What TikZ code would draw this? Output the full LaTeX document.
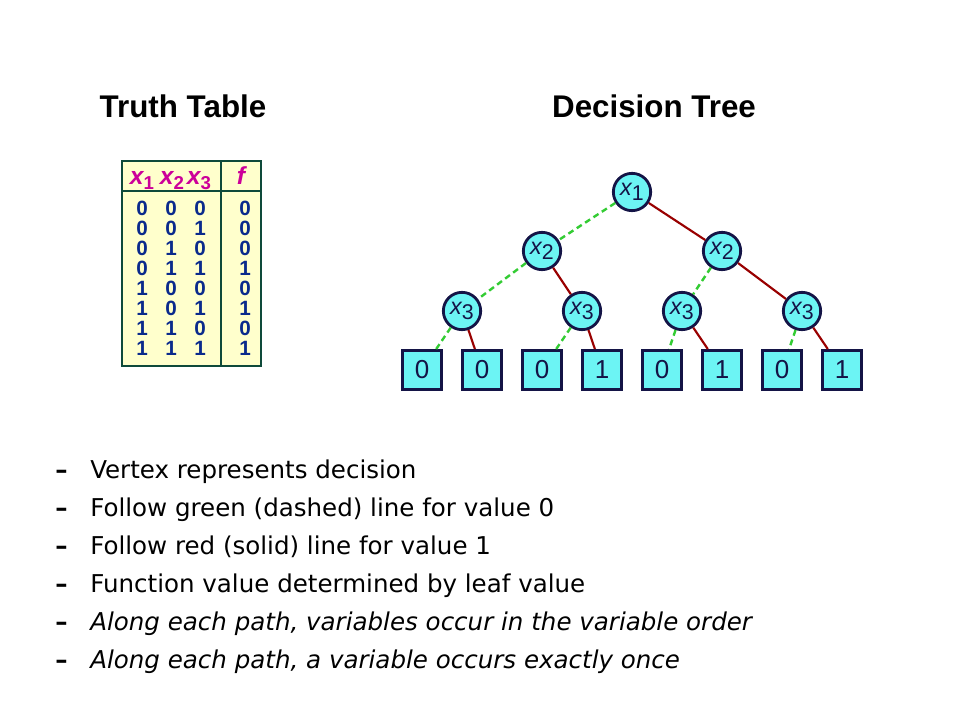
\documentclass[tikz,border=0pt]{standalone}
\usepackage{fontspec}
\setmainfont{Liberation Sans}
\newfontfamily\bulletfont{DejaVu Sans}
\definecolor{tablefill}{HTML}{FFFFCC}
\definecolor{tableborder}{HTML}{0E4A3A}
\definecolor{hdrmag}{HTML}{CC0099}
\definecolor{numblue}{HTML}{0A2A8C}
\definecolor{nodefill}{HTML}{6CF4F4}
\definecolor{nodeborder}{HTML}{141446}
\definecolor{zerogreen}{HTML}{33CC33}
\definecolor{onered}{HTML}{990000}
\newcommand{\hx}[1]{{\bfseries\itshape x}\raisebox{-0.35ex}{\fontsize{14}{14}\selectfont\bfseries #1}}
\newcommand{\nx}[1]{{\itshape x}\raisebox{-0.4ex}{\fontsize{16}{16}\selectfont #1}}
\tikzset{
  title/.style={font=\fontsize{23.5}{28}\selectfont\bfseries, anchor=base},
  hdr/.style={font=\fontsize{18.5}{20}\selectfont, text=hdrmag, anchor=base, inner sep=0pt},
  num/.style={font=\fontsize{15.5}{18}\selectfont\bfseries, text=numblue, inner sep=0pt},
  var/.style={circle, draw=nodeborder, fill=nodefill, line width=2.1pt, minimum size=28pt, inner sep=0pt, text=nodeborder, font=\fontsize{17.5}{20}\selectfont},
  leaf/.style={rectangle, draw=nodeborder, fill=nodefill, line width=2pt, minimum size=29.5pt, inner sep=0pt, text=nodeborder, font=\fontsize{19.5}{22}\selectfont},
  zero/.style={draw=zerogreen, line width=1.8pt, dash pattern=on 4.5pt off 3pt},
  one/.style={draw=onered, line width=1.6pt},
  bul/.style={font=\bulletfont\fontsize{18.4}{22}\selectfont, anchor=base west, inner sep=0pt},
}
\begin{document}
\begin{tikzpicture}[x=0.75pt,y=-0.75pt]
\useasboundingbox[fill=white] (0,0) rectangle (960,720);
% titles
\node[title] (tt) at (183,118) {Truth Table};
\node[title] (dt) at (654,118) {Decision Tree};
% truth table
\draw[tableborder, line width=2.2pt, fill=tablefill] (122,161) rectangle (261,366);
\draw[tableborder, line width=2.2pt] (221,161) -- (221,366);
\draw[tableborder, line width=2.2pt] (122,191) -- (261,191);
\node[hdr] (h1) at (142,185) {\hx{1}};
\node[hdr] (h2) at (172,185) {\hx{2}};
\node[hdr] (h3) at (199,185) {\hx{3}};
\node[hdr] (hf) at (241,185) {\bfseries\itshape f};
\foreach \a/\b/\c/\f [count=\i from 0] in {0/0/0/0,0/0/1/0,0/1/0/0,0/1/1/1,1/0/0/0,1/0/1/1,1/1/0/0,1/1/1/1}{
  \node[num] (r\i a) at (142,208+20*\i) {\a};
  \node[num] (r\i b) at (171,208+20*\i) {\b};
  \node[num] (r\i c) at (200,208+20*\i) {\c};
  \node[num] (r\i f) at (245,208+20*\i) {\f};
}
% decision tree
\node[var] (n1) at (632,192) {\nx{1}};
\node[var] (n2a) at (542,251) {\nx{2}};
\node[var] (n2b) at (722,251) {\nx{2}};
\node[var] (n3a) at (462,311) {\nx{3}};
\node[var] (n3b) at (582,311) {\nx{3}};
\node[var] (n3c) at (682,311) {\nx{3}};
\node[var] (n3d) at (802,311) {\nx{3}};
\foreach \v [count=\i] in {0,0,0,1,0,1,0,1}{
  \node[leaf] (l\i) at (362+60*\i,370) {\v};
}
\draw[zero] (n1) -- (n2a);
\draw[one] (n1) -- (n2b);
\draw[zero] (n2a) -- (n3a);
\draw[one] (n2a) -- (n3b);
\draw[zero] (n2b) -- (n3c);
\draw[one] (n2b) -- (n3d);
\draw[zero] (n3a) -- (l1);
\draw[one] (n3a) -- (l2);
\draw[zero] (n3b) -- (l3);
\draw[one] (n3b) -- (l4);
\draw[zero] (n3c) -- (l5);
\draw[one] (n3c) -- (l6);
\draw[zero] (n3d) -- (l7);
\draw[one] (n3d) -- (l8);
% bullets
\foreach \t/\s [count=\i from 0] in {
  {Vertex represents decision}/\upshape,
  {Follow green (dashed) line for value 0}/\upshape,
  {Follow red (solid) line for value 1}/\upshape,
  {Function value determined by leaf value}/\upshape,
  {Along each path, variables occur in the variable order}/\itshape,
  {Along each path, a variable occurs exactly once}/\itshape}{
  \node[bul] (d\i) at (55,478+38*\i) {\bfseries –};
  \node[bul] (b\i) at (90,478+38*\i) {\s\t};
}
\end{tikzpicture}
\end{document}
